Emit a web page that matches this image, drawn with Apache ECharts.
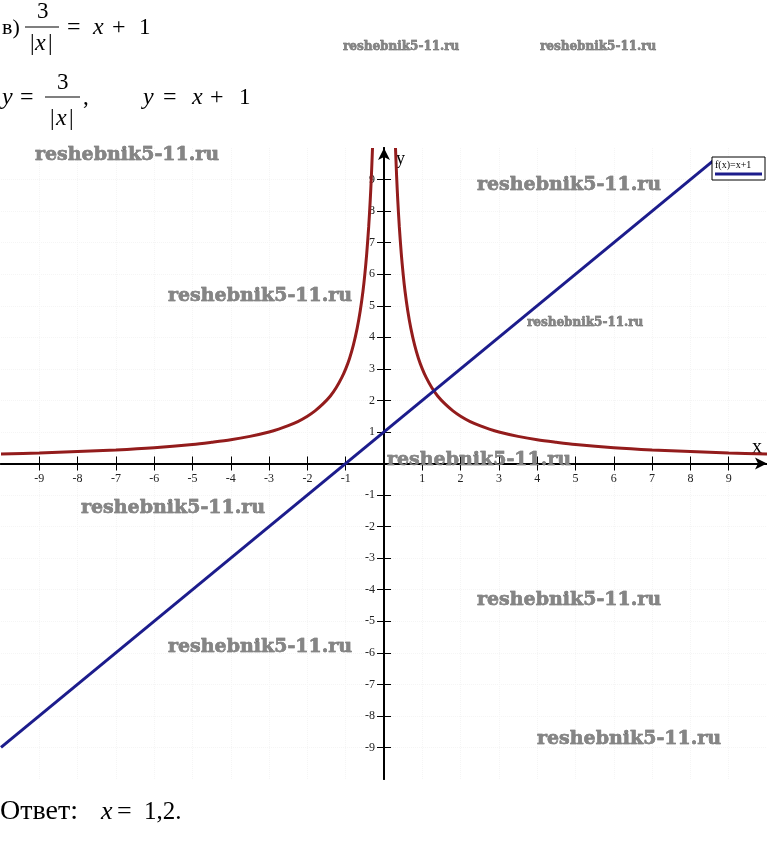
<!DOCTYPE html>
<html>
<head>
<meta charset="utf-8">
<script src="https://cdn.jsdelivr.net/npm/echarts@6/dist/echarts.min.js"></script>
<style>
html, body { margin: 0; padding: 0; background: #fff; }
#chart { width: 767px; height: 856px; }
</style>
</head>
<body>
<div id="chart"></div>
<script>
// values
const tickValues = [-9, -8, -7, -6, -5, -4, -3, -2, -1, 1, 2, 3, 4, 5, 6, 7, 8, 9];

// y = 3/|x|, left branch
const hypLeftX = [-10, -9, -8, -7, -6, -5, -4.5, -4, -3.5, -3, -2.75, -2.5, -2.25, -2, -1.8, -1.6, -1.4, -1.25, -1.1, -1,
    -0.9, -0.8, -0.7, -0.62, -0.55, -0.5, -0.45, -0.4, -0.36, -0.33, -0.3];
const hypLeftY = [0.3, 0.33, 0.38, 0.43, 0.5, 0.6, 0.67, 0.75, 0.86, 1, 1.09, 1.2, 1.33, 1.5, 1.67, 1.88, 2.14, 2.4, 2.73, 3,
    3.33, 3.75, 4.29, 4.84, 5.45, 6, 6.67, 7.5, 8.33, 9.09, 10];
// right branch
const hypRightX = [0.3, 0.33, 0.36, 0.4, 0.45, 0.5, 0.55, 0.62, 0.7, 0.8, 0.9, 1, 1.1, 1.25, 1.4, 1.6, 1.8, 2, 2.25, 2.5,
    2.75, 3, 3.5, 4, 4.5, 5, 6, 7, 8, 9, 10];
const hypRightY = [10, 9.09, 8.33, 7.5, 6.67, 6, 5.45, 4.84, 4.29, 3.75, 3.33, 3, 2.73, 2.4, 2.14, 1.88, 1.67, 1.5, 1.33, 1.2,
    1.09, 1, 0.86, 0.75, 0.67, 0.6, 0.5, 0.43, 0.38, 0.33, 0.3];

// y = x + 1
const lineX = [-10, 8.6];
const lineY = [-9, 9.6];

const watermarkText = 'reshebnik5-11.ru';

const SERIF = 'Liberation Serif';
const RED = '#931c1c';
const BLUE = '#1c1c8c';

const zip = (xs, ys) => xs.map((x, i) => [x, ys[i]]);

function txt(x, y, s, size, italic) {
    return {
        type: 'text', x: x, y: y, z: 10,
        style: {
            text: s, fontFamily: SERIF, fontSize: size,
            fontStyle: italic ? 'italic' : 'normal',
            fill: '#000', align: 'left', verticalAlign: 'middle'
        }
    };
}
function bar(x1, x2, y) {
    return { type: 'line', z: 10, shape: { x1: x1, y1: y, x2: x2, y2: y }, style: { stroke: '#000', lineWidth: 1.2 } };
}
function mark(x, y, size) {
    return {
        type: 'text', x: x, y: y, z: 50,
        style: {
            text: watermarkText, fontFamily: 'DejaVu Serif', fontWeight: 'bold', fontSize: size,
            fill: '#858585', stroke: '#4a4a4a', lineWidth: 0.5,
            align: 'left', verticalAlign: 'middle'
        }
    };
}

const graphics = [
    // в) 3/|x| = x + 1
    txt(2, 28, 'в)', 22),
    txt(37, 12, '3', 23),
    bar(25, 59, 27),
    txt(30, 44, '|', 23), txt(35, 44, 'x', 24, true), txt(48, 44, '|', 23),
    txt(67, 28, '=', 24),
    txt(93, 28, 'x', 24, true),
    txt(112, 28, '+', 24),
    txt(139, 28, '1', 23),

    // y = 3/|x|,   y = x + 1
    txt(2, 98, 'y', 24, true),
    txt(20, 98, '=', 24),
    txt(57, 83, '3', 23),
    bar(45, 80, 97),
    txt(50, 119, '|', 23), txt(56, 119, 'x', 24, true), txt(69, 119, '|', 23),
    txt(83, 98, ',', 23),
    txt(143, 98, 'y', 24, true),
    txt(163, 98, '=', 24),
    txt(192, 98, 'x', 24, true),
    txt(210, 98, '+', 24),
    txt(239, 98, '1', 23),

    // answer
    txt(0, 812, 'Ответ:', 28),
    txt(101, 812, 'x', 26, true),
    txt(117, 812, '=', 26),
    txt(144, 812, '1,2.', 25),

    // legend box
    { type: 'rect', z: 100, shape: { x: 712, y: 157, width: 53, height: 23 }, style: { fill: '#fff', stroke: '#000', lineWidth: 1 } },
    { type: 'text', x: 715, y: 165, z: 101, style: { text: 'f(x)=x+1', fontFamily: SERIF, fontSize: 10, fill: '#000', align: 'left', verticalAlign: 'middle' } },
    { type: 'line', z: 101, shape: { x1: 715, y1: 174, x2: 762, y2: 174 }, style: { stroke: BLUE, lineWidth: 3 } },

    // watermarks
    mark(343, 47, 12), mark(540, 47, 12), mark(527, 323, 12),
    mark(35, 155, 19), mark(168, 296, 19), mark(477, 185, 19), mark(81, 508, 19),
    mark(387, 460, 19), mark(477, 600, 19), mark(168, 647, 19), mark(537, 739, 19)
];

const GRID_W = 766, GRID_H = 631;
const labelStyle = { customValues: tickValues, fontFamily: SERIF, fontSize: 12, color: '#222' };
const axisLineStyle = { color: '#000', width: 2 };
const tickStyle = { customValues: tickValues, length: 7, lineStyle: { color: '#000', width: 1 } };
const gridLine = { show: true, lineStyle: { color: '#f5f5f5', type: 'dotted' } };

const chart = echarts.init(document.getElementById('chart'));
chart.setOption({
    animation: false,
    backgroundColor: '#fff',
    grid: { left: 1, top: 148, width: GRID_W, height: GRID_H, outerBoundsMode: 'none', containLabel: false },
    xAxis: [
        {
            type: 'value', min: -10, max: 10, interval: 1, position: 'bottom', offset: -GRID_H / 2,
            name: 'x', nameLocation: 'end', nameGap: -15,
            nameTextStyle: { fontFamily: SERIF, fontSize: 20, color: '#000', align: 'left', verticalAlign: 'bottom', padding: [0, 0, 6, 0] },
            axisLine: { onZero: false, lineStyle: axisLineStyle, symbol: ['none', 'arrow'], symbolSize: [9, 12] },
            axisTick: tickStyle,
            axisLabel: Object.assign({ margin: 9 }, labelStyle),
            splitLine: gridLine
        },
        {
            type: 'value', min: -10, max: 10, interval: 1, position: 'top', offset: -GRID_H / 2,
            axisLine: { onZero: false, lineStyle: axisLineStyle },
            axisTick: tickStyle,
            axisLabel: { show: false },
            splitLine: { show: false }
        }
    ],
    yAxis: [
        {
            type: 'value', min: -10, max: 10, interval: 1, position: 'left', offset: -GRID_W / 2,
            name: 'y', nameLocation: 'end', nameGap: -20,
            nameTextStyle: { fontFamily: SERIF, fontSize: 18, color: '#000', align: 'left', padding: [0, 0, 0, 12] },
            axisLine: { onZero: false, lineStyle: axisLineStyle, symbol: ['none', 'arrow'], symbolSize: [9, 12] },
            axisTick: tickStyle,
            axisLabel: Object.assign({ margin: 9 }, labelStyle),
            splitLine: gridLine
        },
        {
            type: 'value', min: -10, max: 10, interval: 1, position: 'right', offset: -GRID_W / 2,
            axisLine: { onZero: false, lineStyle: axisLineStyle },
            axisTick: tickStyle,
            axisLabel: { show: false },
            splitLine: { show: false }
        }
    ],
    series: [
        {
            name: 'y=3/|x| left', type: 'line', data: zip(hypLeftX, hypLeftY),
            showSymbol: false, smooth: 0.3, clip: true,
            lineStyle: { color: RED, width: 3 }, z: 3
        },
        {
            name: 'y=3/|x| right', type: 'line', data: zip(hypRightX, hypRightY),
            showSymbol: false, smooth: 0.3, clip: true,
            lineStyle: { color: RED, width: 3 }, z: 3
        },
        {
            name: 'f(x)=x+1', type: 'line', data: zip(lineX, lineY),
            showSymbol: false, clip: true,
            lineStyle: { color: BLUE, width: 3 }, z: 4
        }
    ],
    graphic: graphics
});
</script>
</body>
</html>
